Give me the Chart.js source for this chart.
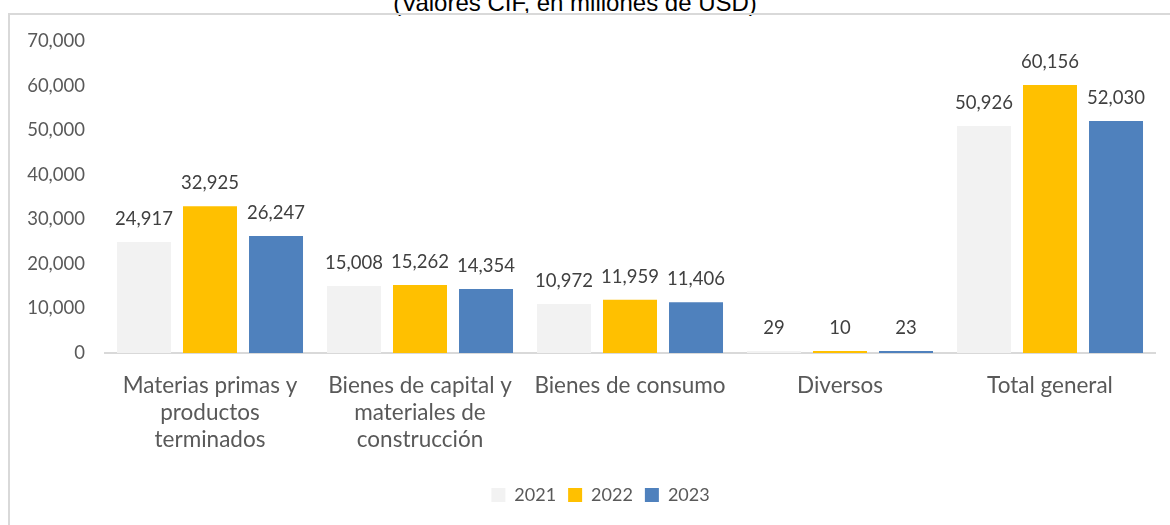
<!DOCTYPE html>
<html>
<head>
<meta charset="utf-8">
<script src="https://cdn.jsdelivr.net/npm/chart.js@4.4.0/dist/chart.umd.min.js"></script>
<style>
  body { margin: 0; background: #fff; width: 1170px; height: 525px; overflow: hidden; position: relative; }
  #titulo { position: absolute; left: 0; width: 1150px; top: -9px; text-align: center; line-height: 24px;
            font-family: "Liberation Sans", Arial, sans-serif; font-size: 24px; color: #000; }
  #marco { position: absolute; left: 8px; top: 13px; width: 1200px; height: 600px;
           border: 2px solid #d9d9d9; box-sizing: border-box; }
  #caja { position: absolute; left: 10px; top: 15px; width: 1160px; height: 510px; }
</style>
</head>
<body>
<div id="titulo">(Valores CIF, en millones de USD)</div>
<div id="marco"></div>
<div id="caja"><canvas id="grafico"></canvas></div>
<script>
// categorías y valores (millones de USD)
var categorias = [
    ["Materias primas y", "productos", "terminados"],
    ["Bienes de capital y", "materiales de", "construcción"],
    "Bienes de consumo",
    "Diversos",
    "Total general"
];
var anios = ["2021", "2022", "2023"];
var valores2021 = [24917, 15008, 10972, 29, 50926];
var valores2022 = [32925, 15262, 11959, 10, 60156];
var valores2023 = [26247, 14354, 11406, 23, 52030];
var colores = ["#f2f2f2", "#ffc000", "#4f81bd"];

var fuente = "Lato, 'Noto Sans', sans-serif";

// etiquetas encima de cada barra
var etiquetas = {
    id: 'etiquetas',
    afterLayout: function(chart) {
        // la leyenda original queda un poco a la derecha
        chart.legend.left += 18;
        chart.legend.right += 18;
    },
    afterDatasetsDraw: function(chart) {
        var ctx = chart.ctx;
        ctx.save();
        ctx.font = "18.5px " + fuente;
        ctx.fillStyle = "#404040";
        ctx.textAlign = "center";
        ctx.textBaseline = "middle";
        chart.data.datasets.forEach(function(ds, i) {
            chart.getDatasetMeta(i).data.forEach(function(bar, j) {
                ctx.fillText(ds.data[j].toLocaleString('en-US'), bar.x, bar.y - 23);
            });
        });
        ctx.restore();
    }
};

var ctx = document.getElementById('grafico').getContext('2d');
var grafico = new Chart(ctx, {
    type: 'bar',
    data: {
        labels: categorias,
        datasets: [
            { label: anios[0], data: valores2021, backgroundColor: colores[0] },
            { label: anios[1], data: valores2022, backgroundColor: colores[1] },
            { label: anios[2], data: valores2023, backgroundColor: colores[2] }
        ]
    },
    options: {
        responsive: true,
        maintainAspectRatio: false,
        animation: false,
        layout: { padding: { top: 26, right: 15, left: 0, bottom: 11 } },
        datasets: { bar: { barPercentage: 0.818, categoryPercentage: 0.943, minBarLength: 2 } },
        plugins: {
            legend: {
                position: 'bottom',
                labels: {
                    boxWidth: 14, boxHeight: 14, padding: 12,
                    color: '#595959',
                    font: { family: fuente, size: 18 }
                }
            },
            tooltip: { enabled: false }
        },
        scales: {
            x: {
                grid: { display: false },
                border: { color: '#d9d9d9', width: 2 },
                ticks: {
                    color: '#595959', maxRotation: 0, padding: 11,
                    font: { family: fuente, size: 22.5, lineHeight: 1.2 }
                },
                afterFit: function(s) { s.height += 10; }
            },
            y: {
                min: 0, max: 70000,
                grid: { display: false },
                border: { display: false },
                ticks: {
                    stepSize: 10000, padding: 12, color: '#595959',
                    font: { family: fuente, size: 18.5 },
                    callback: function(v) { return v.toLocaleString('en-US'); }
                },
                afterFit: function(s) { s.width = 95; }
            }
        }
    },
    plugins: [etiquetas]
});
</script>
</body>
</html>
